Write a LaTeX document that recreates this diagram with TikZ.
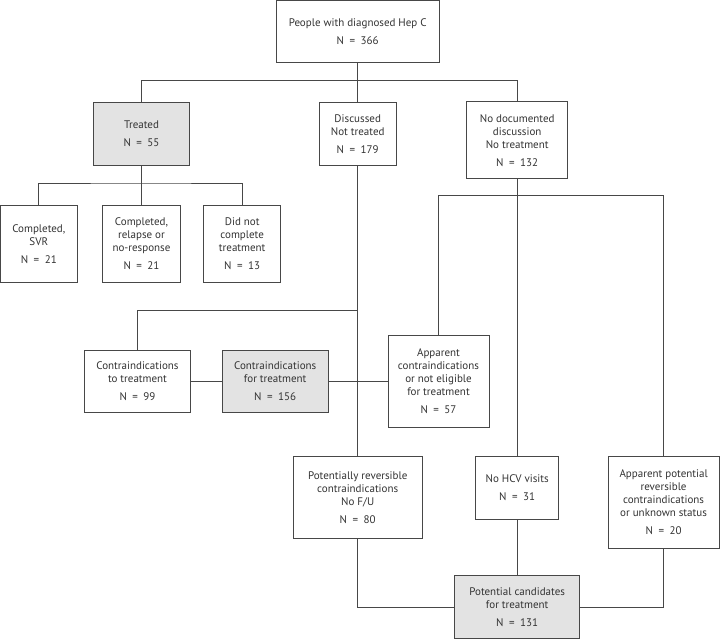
\documentclass[tikz,border=0pt]{standalone}
\usepackage{fontspec}
\setmainfont{PT Sans}
\usetikzlibrary{positioning}

\newcommand{\cnt}[1]{N\enspace=\enspace#1}

\begin{document}
\begin{tikzpicture}[
  x=1pt, y=-1pt,
  box/.style={draw=black!72, line width=0.9pt, fill=white, align=center,
    text=black!80, font=\fontsize{11}{13}\selectfont, inner sep=0pt},
  shaded/.style={box, fill=black!11},
  link/.style={line width=0.9pt, draw=black!72},
]
\useasboundingbox (0,0) rectangle (720,639);

% First level
\node[box, minimum width=163, minimum height=62.5] (people) at (357.7,31.7)
  {People with diagnosed Hep C\\[5pt]\cnt{366}};
\node[shaded, minimum width=96, minimum height=62.7] (treated) at (141.5,133.7)
  {Treated\\[5pt]\cnt{55}};
\node[box, minimum width=76.6, minimum height=62.7] (discussed) at (357.7,133.7)
  {Discussed\\Not treated\\[5pt]\cnt{179}};
\node[box, minimum width=101, minimum height=77] (nodoc) at (517.2,140.2)
  {No documented\\discussion\\No treatment\\[5pt]\cnt{132}};

\coordinate (j1) at (357.7,80.3);
\draw[link] (people.south) -- (discussed.north);
\draw[link] (treated.north) |- (j1) -| (nodoc.north);

% Treated
\node[box, minimum width=77.6, minimum height=77] (svr) at (38.8,243.8)
  {Completed,\\SVR\\[5pt]\cnt{21}};
\node[box, minimum width=77.2, minimum height=77] (relapse) at (141.5,243.8)
  {Completed,\\relapse or\\no-response\\[5pt]\cnt{21}};
\node[box, minimum width=76.6, minimum height=77] (notdone) at (242.2,243.8)
  {Did not\\complete\\treatment\\[5pt]\cnt{13}};

\coordinate (j2) at (141.5,183);
\draw[link] (treated.south) -- (relapse.north);
\draw[link] (svr.north) |- (j2) -| (notdone.north);

% Contraindications
\node[box, minimum width=106, minimum height=62.4] (contrato) at (137.5,381.5)
  {Contraindications\\to treatment\\[5pt]\cnt{99}};
\node[shaded, minimum width=106, minimum height=62.4] (contrafor) at (275.2,381.5)
  {Contraindications\\for treatment\\[5pt]\cnt{156}};
\node[box, minimum width=101, minimum height=91.6] (apparent) at (438.5,381.5)
  {Apparent\\contraindications\\or not eligible\\for treatment\\[5pt]\cnt{57}};

\coordinate (j3) at (357.7,310.7);
\coordinate (j4) at (517.2,195.7);
\draw[link] (contrato.north) |- (j3);
\draw[link] (contrato.east) -- (contrafor.west);
\draw[link] (contrafor.east) -- (apparent.west);

% Lower level
\node[box, minimum width=129.5, minimum height=82] (potrev) at (357.7,497.3)
  {Potentially reversible\\contraindications\\No F/U\\[5pt]\cnt{80}};
\node[box, minimum width=83, minimum height=63] (nohcv) at (517.2,487.8)
  {No HCV visits\\[5pt]\cnt{31}};
\node[box, minimum width=110.7, minimum height=91.7] (apppot) at (663.6,502.1)
  {Apparent potential\\reversible\\contraindications\\or unknown status\\[5pt]\cnt{20}};
\node[shaded, minimum width=125, minimum height=62.6] (cand) at (517.2,607)
  {Potential candidates\\for treatment\\[5pt]\cnt{131}};

\draw[link] (discussed.south) -- (potrev.north);
\draw[link] (nodoc.south) -- (nohcv.north);
\draw[link] (apparent.north) |- (j4) -| (apppot.north);
\draw[link] (nohcv.south) -- (cand.north);
\draw[link] (potrev.south) |- (cand.west);
\draw[link] (apppot.south) |- (cand.east);

\end{tikzpicture}
\end{document}
